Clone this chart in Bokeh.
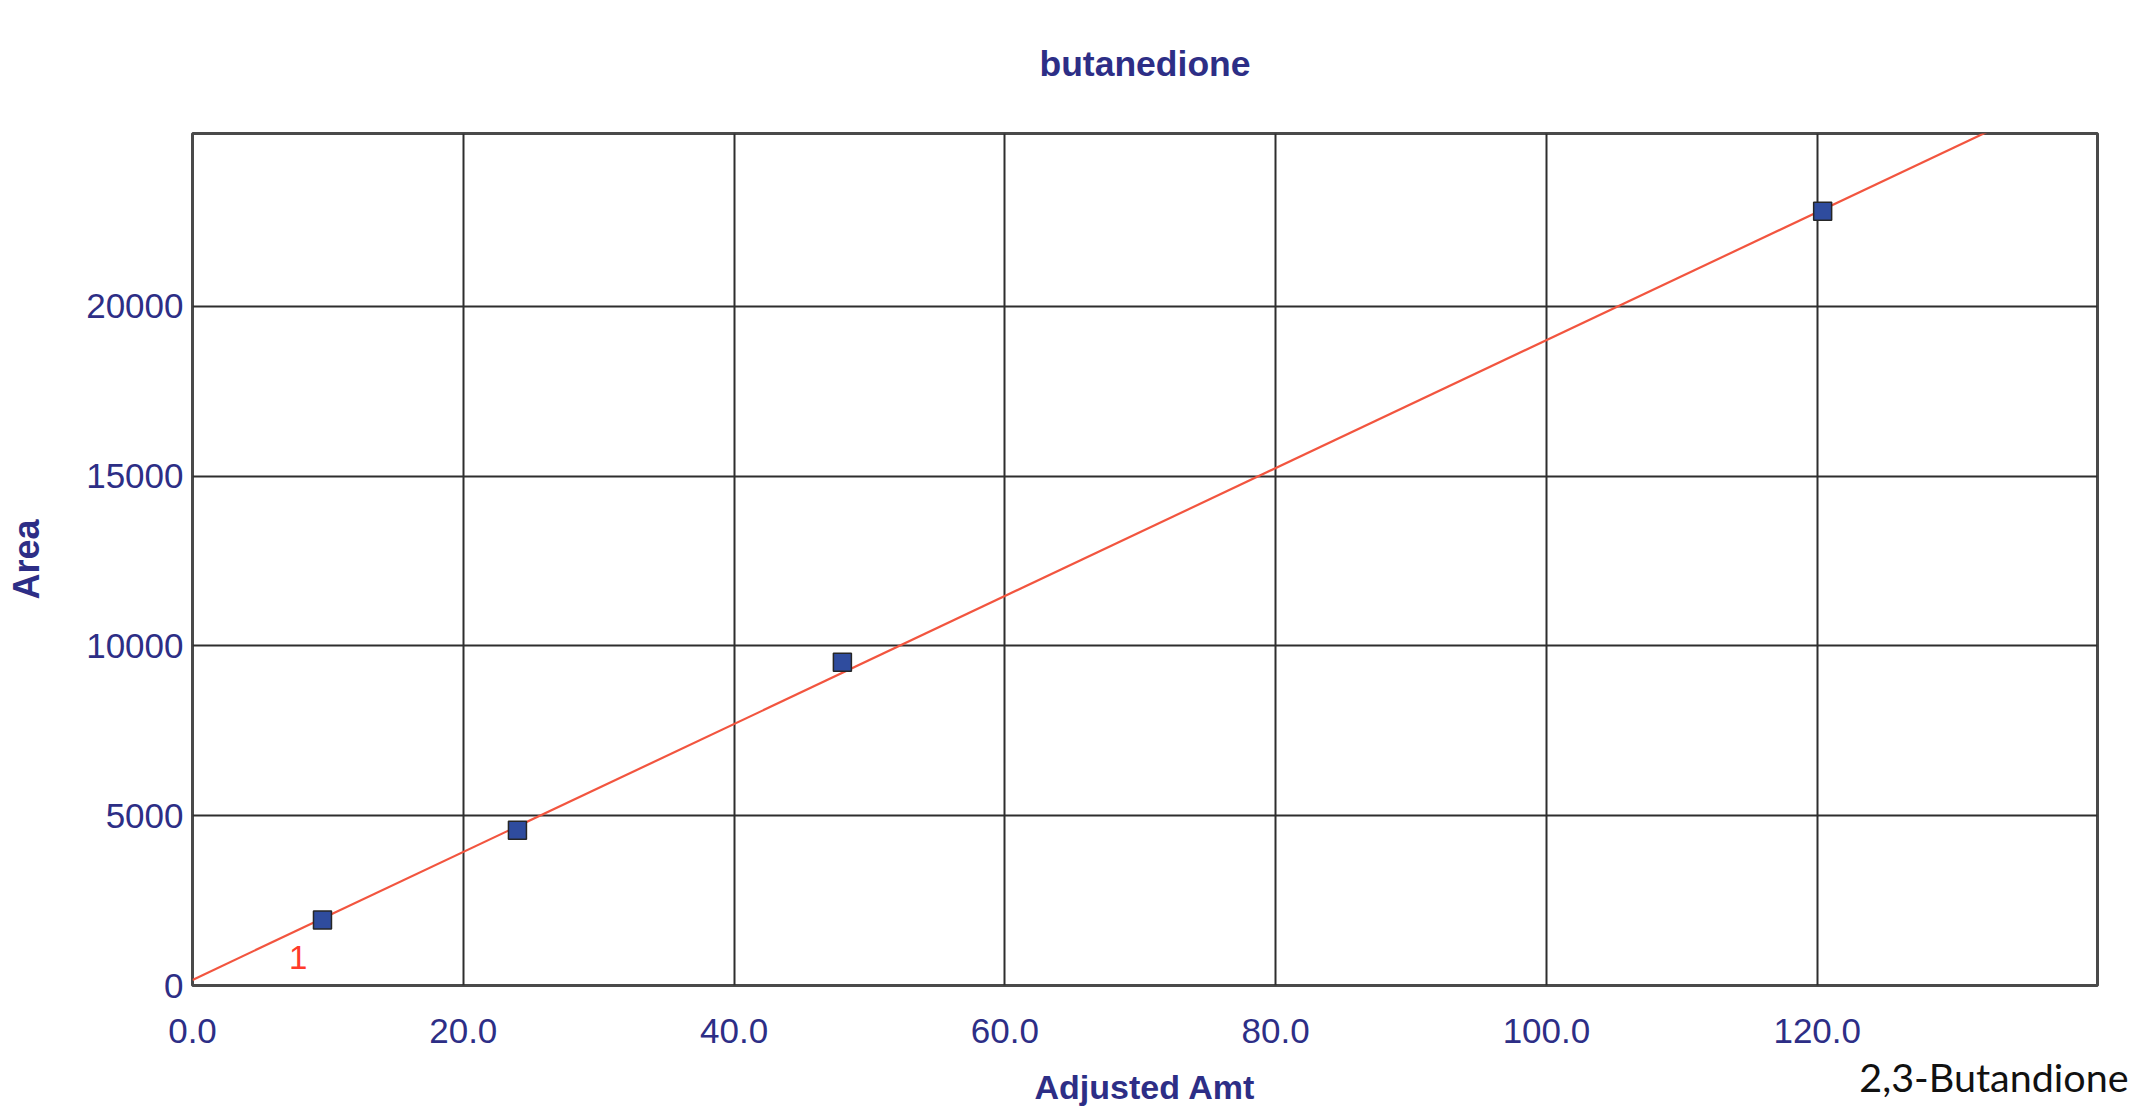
import numpy as np
from bokeh.plotting import figure
from bokeh.models import Range1d, FixedTicker, PrintfTickFormatter, Label
from bokeh.embed import file_html
from bokeh.resources import INLINE

# ---- data ----
title_text = "butanedione"
x_label = "Adjusted Amt"
y_label = "Area"
compound = "2,3-Butandione"
level_label = "1"

amounts = [9.6, 24.0, 48.0, 120.4]      # Adjusted Amt
areas = [1930, 4570, 9520, 22800]       # Area

slope = 188.4
intercept = 165.0

x_ticks = [0, 20, 40, 60, 80, 100, 120]
y_ticks = [0, 5000, 10000, 15000, 20000]
x_max = 140.7
y_max = 25090

# ---- styles ----
NAVY = "#2d2e86"
FONT = "Liberation Sans, Arial, sans-serif"

p = figure(width=2132, height=1107, output_backend="svg", toolbar_location=None,
           x_range=Range1d(0, x_max), y_range=Range1d(0, y_max),
           min_border_left=192, min_border_right=35, min_border_top=133, min_border_bottom=122,
           background_fill_color="white", border_fill_color="white")

p.outline_line_color = "#4a4a4a"
p.outline_line_width = 3

for ax in (p.xaxis[0], p.yaxis[0]):
    ax.axis_line_color = None
    ax.major_tick_line_color = None
    ax.minor_tick_line_color = None
    ax.major_tick_out = 0
    ax.major_tick_in = 0
    ax.minor_tick_out = 0
    ax.major_label_text_color = NAVY
    ax.major_label_text_font = FONT
    ax.major_label_text_font_size = "35px"

p.xaxis[0].ticker = FixedTicker(ticks=x_ticks)
p.xaxis[0].formatter = PrintfTickFormatter(format="%.1f")
p.xaxis[0].major_label_standoff = 33
p.yaxis[0].ticker = FixedTicker(ticks=y_ticks)
p.yaxis[0].formatter = PrintfTickFormatter(format="%d")
p.yaxis[0].major_label_standoff = 9

p.xgrid.ticker = FixedTicker(ticks=x_ticks)
p.ygrid.ticker = FixedTicker(ticks=y_ticks)
for g in (p.xgrid[0], p.ygrid[0]):
    g.grid_line_color = "#2e2e2e"
    g.grid_line_width = 2

# calibration line
fit_x = np.array([0.0, x_max])
fit_y = intercept + slope * fit_x
p.line(fit_x, fit_y, line_color="#f2553f", line_width=2.2)

# calibration points
p.scatter(amounts, areas, marker="square", size=18, fill_color="#2f4c9e",
          line_color="#262626", line_width=1.5)

# level label
p.add_layout(Label(x=7.8, y=810, text=level_label, text_color="#ff3a2a",
                   text_font=FONT, text_font_size="33px",
                   text_align="center", text_baseline="middle"))

# texts outside the frame are held in a side panel so they are not clipped;
# their positions still use the frame's data scales
p.add_layout(Label(x=x_max / 2, y=27128, text=title_text, text_color=NAVY,
                   text_font=FONT, text_font_size="35.5px", text_font_style="bold",
                   text_align="center", text_baseline="alphabetic"), "above")

p.add_layout(Label(x=x_max / 2, y=-2998, text=x_label, text_color=NAVY,
                   text_font=FONT, text_font_size="34px", text_font_style="bold",
                   text_align="center", text_baseline="alphabetic"), "above")

p.add_layout(Label(x=143.0, y=-2674, text=compound, text_color="#111111",
                   text_font="Lato, sans-serif", text_font_size="39.5px",
                   text_align="right", text_baseline="alphabetic"), "above")

p.add_layout(Label(x=-12.26, y=y_max / 2, text=y_label, text_color=NAVY,
                   text_font=FONT, text_font_size="36px", text_font_style="bold",
                   angle=np.pi / 2, text_align="center", text_baseline="alphabetic"), "left")

open("out.html", "w").write(file_html(p, INLINE))
